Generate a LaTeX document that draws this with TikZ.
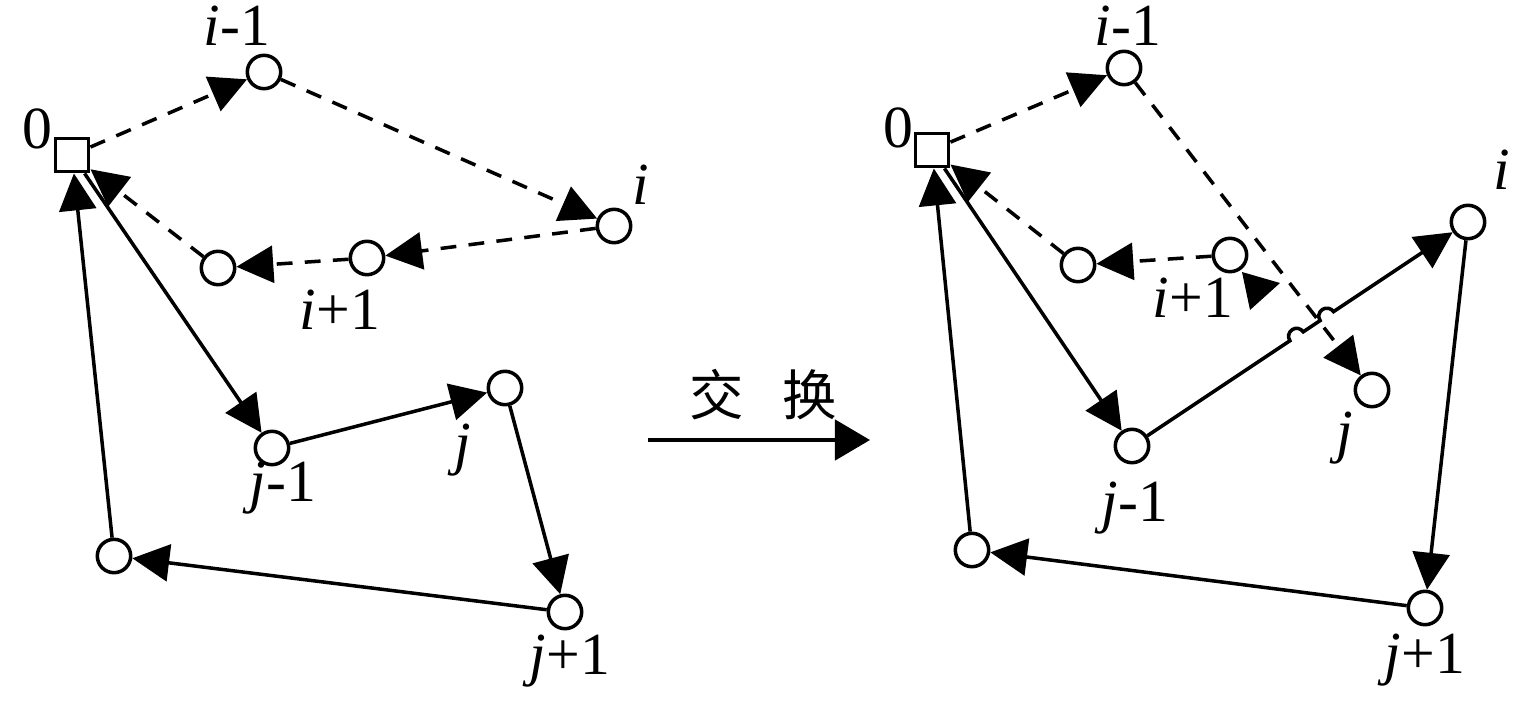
\documentclass[tikz,border=0pt]{standalone}
\usepackage{fontspec}
\setmainfont{Liberation Serif}
\newfontfamily\cjk{Noto Sans CJK SC}
\usetikzlibrary{arrows.meta,calc}

\begin{document}
\begin{tikzpicture}[x=0.02cm,y=-0.02cm,>={Triangle[length=21pt,width=21pt]},line cap=butt,line join=miter,
  site/.style={circle,draw,line width=2pt,minimum size=19pt,inner sep=0pt,fill=white},
  depot/.style={rectangle,draw,line width=2pt,minimum size=19pt,inner sep=0pt,fill=white},
  lab/.style={font=\fontsize{34}{40}\selectfont,inner sep=0pt},
  solid route/.style={->,line width=2pt},
  dash route/.style={->,line width=2pt,dash pattern=on 9pt off 7pt}]

% 1 unit = 1 px of the 1535 x 703 frame, y pointing down
\useasboundingbox (0,0) rectangle (1535,703);

% ---- BEFORE (left) ----
\node[depot] (L0)   at (72,155)  {};
\node[site]  (Lim)  at (264,72)  {};
\node[site]  (Li)   at (614,226) {};
\node[site]  (Lip)  at (367,258) {};
\node[site]  (Lipp) at (218,268) {};
\node[site]  (Ljm)  at (272,448) {};
\node[site]  (Lj)   at (505,388) {};
\node[site]  (Ljp)  at (565,612) {};
\node[site]  (Ljpp) at (114,556) {};

% tour through i (dashed)
\draw[dash route] (L0) -- (Lim);
\draw[dash route] (Lim) -- (Li);
\draw[dash route] (Li) -- (Lip);
\draw[dash route] (Lip) -- (Lipp);
\draw[dash route] (Lipp) -- (L0);

% tour through j (solid)
\draw[solid route] (L0) -- (Ljm);
\draw[solid route] (Ljm) -- (Lj);
\draw[solid route] (Lj) -- (Ljp);
\draw[solid route] (Ljp) -- (Ljpp);
\draw[solid route] (Ljpp) -- (L0);

% labels
\node[lab] (tL0)  at (37,129)  {0};
\node[lab] (tLim) at (237,26)  {\textit{i}-1};
\node[lab] (tLi)  at (641,185) {\textit{i}};
\node[lab] (tLip) at (340,310) {\textit{i}+1};
\node[lab] (tLjm) at (283,488) {\textit{j}-1};
\node[lab] (tLj)  at (463,450) {\textit{j}};
\node[lab] (tLjp) at (570,661) {\textit{j}+1};

% ---- SWAP ARROW ----
\coordinate (swapL) at (648,440);
\coordinate (swapR) at (870,440);
\draw[line width=2.2pt,-{Triangle[length=20pt,width=23pt]}] (swapL) -- (swapR);
\node[inner sep=0pt,font=\fontsize{31}{36}\cjk] (tswap) at (763,395) {交\hspace{0.7em}换};

% ---- AFTER (right) ----
\node[depot] (R0)   at (932,150)  {};
\node[site]  (Rim)  at (1124,68)  {};
\node[site]  (Rip)  at (1230,255) {};
\node[site]  (Ripp) at (1078,265) {};
\node[site]  (Rj)   at (1372,390) {};
\node[site]  (Ri)   at (1468,222) {};
\node[site]  (Rjm)  at (1132,446) {};
\node[site]  (Rjp)  at (1425,608) {};
\node[site]  (Rjpp) at (972,550)  {};

% dashed tour, j now after i-1
\draw[dash route] (R0) -- (Rim);
\draw[dash route] (Rim) -- (Rj);
\draw[dash route] (Rip) -- (Ripp);
\draw[dash route] (Ripp) -- (R0);
\fill (1242,272) -- (1280,283) -- (1250,310) -- cycle;

% solid tour, i now after j-1 (hops over the dashed line)
\draw[solid route] (R0) -- (Rjm);
\draw[solid route] (Rjm) -- ($(Rjm)!0.47!(Ri)$)
    arc[start angle=213.69,end angle=33.69,radius=0.16cm]
    -- ($(Rjm)!0.56!(Ri)$)
    arc[start angle=213.69,end angle=33.69,radius=0.16cm]
    -- (Ri);
\draw[solid route] (Ri) -- (Rjp);
\draw[solid route] (Rjp) -- (Rjpp);
\draw[solid route] (Rjpp) -- (R0);

% labels
\node[lab] (tR0)  at (898,128)  {0};
\node[lab] (tRim) at (1128,26)  {\textit{i}-1};
\node[lab] (tRi)  at (1502,170) {\textit{i}};
\node[lab] (tRip) at (1193,298) {\textit{i}+1};
\node[lab] (tRj)  at (1345,438) {\textit{j}};
\node[lab] (tRjm) at (1135,508) {\textit{j}-1};
\node[lab] (tRjp) at (1425,660) {\textit{j}+1};

\end{tikzpicture}
\end{document}
